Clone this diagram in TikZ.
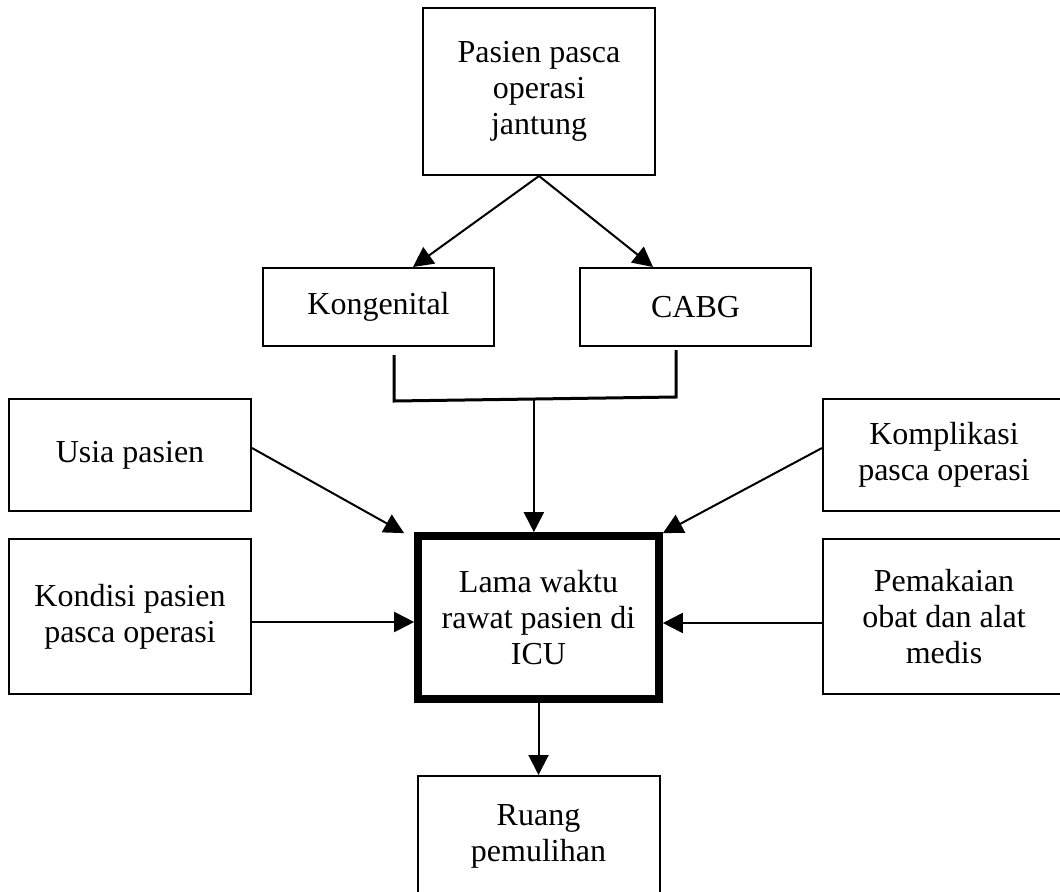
\documentclass[tikz,border=0pt]{standalone}
\usepackage{fontspec}
\setmainfont{Liberation Serif}
\usetikzlibrary{arrows.meta,calc}

\tikzset{every picture/.style={line width=0.75pt}}
\tikzset{
  kotak/.style={draw, line width=1.5pt, align=center, inner sep=2pt, font=\fontsize{24}{27}\selectfont},
  panah/.style={line width=1.5pt, -{Triangle[length=15pt,width=15pt]}},
  siku/.style={line width=2.25pt},
}

\begin{document}
\begin{tikzpicture}[x=0.75pt,y=0.75pt,yscale=-1,xscale=1]
\useasboundingbox (0,0) rectangle (1060,892);
\clip (0,0) rectangle (1060,892);

%Shape: Rectangle (top)
\node[kotak, minimum width=174pt, minimum height=125.25pt] (pasien) at (539,91.5) {Pasien pasca\\operasi\\jantung};
%Shape: Rectangle
\node[kotak, minimum width=173.25pt, minimum height=58.5pt] (kong) at (378.5,307) {Kongenital};
%Shape: Rectangle
\node[kotak, minimum width=173.25pt, minimum height=58.5pt] (cabg) at (695.5,307) {CABG};
%Shape: Rectangle
\node[kotak, minimum width=181.5pt, minimum height=84pt] (usia) at (130,455) {Usia pasien};
%Shape: Rectangle
\node[kotak, minimum width=181.5pt, minimum height=116.25pt] (kondisi) at (130,616.5) {Kondisi pasien\\pasca operasi};
%Shape: Rectangle
\node[kotak, minimum width=181.5pt, minimum height=84pt] (kompl) at (944,455) {Komplikasi\\pasca operasi};
%Shape: Rectangle
\node[kotak, minimum width=181.5pt, minimum height=116.25pt] (pemakaian) at (944,616.5) {Pemakaian\\obat dan alat\\medis};
%Shape: Rectangle (thick)
\node[kotak, line width=5.75pt, minimum width=180.75pt, minimum height=122.25pt] (lama) at (538.5,617.5) {Lama waktu\\rawat pasien di\\ICU};
%Shape: Rectangle (bottom)
\node[kotak, minimum width=181.5pt, minimum height=90pt] (ruang) at (538.5,836) {Ruang\\pemulihan};

%Straight Lines
\draw[panah] (pasien.south) -- ($(kong.north)+(34.5,0)$);
\draw[panah] (pasien.south) -- ($(cabg.north)+(-42.5,0)$);

%Straight Lines (bracket)
\coordinate (kb) at ($(kong.south)+(15.5,8)$);
\coordinate (cb) at ($(cabg.south)+(-19.5,3)$);
\draw[siku] (kb) -- ++(0,46) coordinate (kj) -- ($(cb)+(0,47)$) coordinate (cj) -- (cb);
\coordinate (gabung) at ($(kj)!0.496!(cj)$);
\draw[panah] (gabung) -- (gabung |- lama.north);

%Straight Lines
\draw[panah] ($(usia.east)+(0,-7)$) -- ($(lama.north west)+(-10,1)$);
\draw[panah] ($(kompl.west)+(0,-7)$) -- ($(lama.north east)+(0,1)$);
\draw[panah] ($(kondisi.east)+(0,5.5)$) -- ($(lama.west)+(0,4.5)$);
\draw[panah] ($(pemakaian.west)+(0,6.5)$) -- ($(lama.east)+(0,5.5)$);
\draw[panah] (lama.south) -- (ruang.north);

\end{tikzpicture}
\end{document}
